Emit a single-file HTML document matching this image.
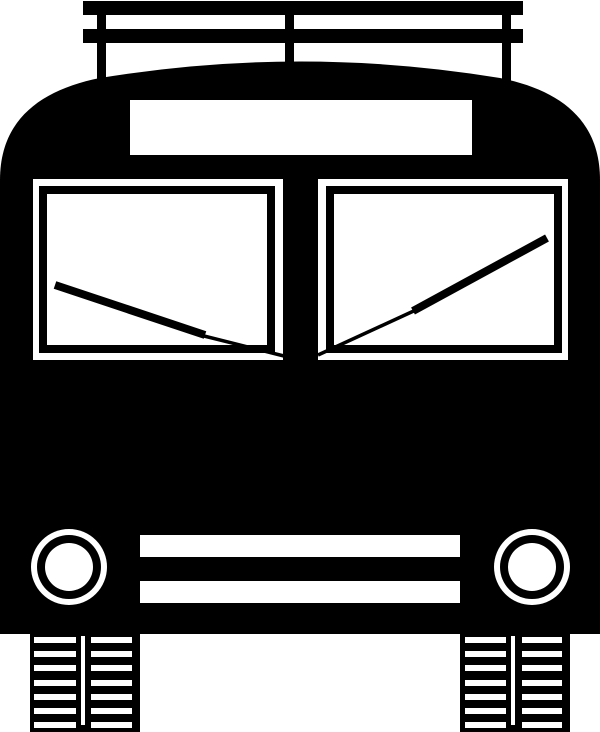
<!DOCTYPE html>
<html><head><style>html,body{margin:0;padding:0;background:#fff}svg{display:block}</style></head>
<body>
<svg width="600" height="732" viewBox="0 0 600 732" xmlns="http://www.w3.org/2000/svg">
<rect width="600" height="732" fill="#fff"/>
<!-- roof rack -->
<rect x="83" y="1" width="440" height="14" fill="#000"/>
<rect x="83" y="29" width="440" height="14" fill="#000"/>
<rect x="97" y="1" width="9" height="90" fill="#000"/>
<rect x="285" y="1" width="9" height="70" fill="#000"/>
<rect x="502" y="1" width="9" height="90" fill="#000"/>
<!-- body -->
<path d="M0,634 L0,180 C0,120 40,90 100,78 Q300,45 500,78 C560,90 600,120 600,180 L600,634 Z" fill="#000"/>
<!-- sign -->
<rect x="130" y="100" width="342" height="55" fill="#fff"/>
<!-- windows -->
<rect x="33" y="179" width="250" height="181" fill="#fff"/>
<rect x="39" y="186" width="236" height="167" fill="#000"/>
<rect x="47" y="194" width="220" height="151" fill="#fff"/>
<rect x="318" y="179" width="250" height="181" fill="#fff"/>
<rect x="326" y="186" width="236" height="167" fill="#000"/>
<rect x="334" y="194" width="220" height="151" fill="#fff"/>
<!-- wipers -->
<line x1="55" y1="285" x2="205" y2="335" stroke="#000" stroke-width="8"/>
<line x1="200" y1="335" x2="284" y2="356" stroke="#000" stroke-width="3.5"/>
<line x1="547" y1="238" x2="413" y2="311" stroke="#000" stroke-width="8"/>
<line x1="418" y1="309" x2="318" y2="355" stroke="#000" stroke-width="3.5"/>
<!-- headlights -->
<circle cx="69" cy="567" r="38" fill="#fff"/>
<circle cx="69" cy="567" r="32" fill="#000"/>
<circle cx="69" cy="567" r="24" fill="#fff"/>
<circle cx="532" cy="567" r="38" fill="#fff"/>
<circle cx="532" cy="567" r="32" fill="#000"/>
<circle cx="532" cy="567" r="24" fill="#fff"/>
<!-- grille bars -->
<rect x="140" y="535" width="320" height="22" fill="#fff"/>
<rect x="140" y="581" width="320" height="22" fill="#fff"/>
<!-- wheels -->
<rect x="30" y="634" width="110" height="98" fill="#000"/>
<rect x="460" y="634" width="110" height="98" fill="#000"/>
<g fill="#fff">
<rect x="81" y="636" width="4" height="89"/>
<rect x="511" y="636" width="4" height="89"/>
<rect x="34" y="637" width="42" height="6"/><rect x="91" y="637" width="41" height="6"/>
<rect x="34" y="651" width="42" height="6"/><rect x="91" y="651" width="41" height="6"/>
<rect x="34" y="665" width="42" height="6"/><rect x="91" y="665" width="41" height="6"/>
<rect x="34" y="680" width="42" height="6"/><rect x="91" y="680" width="41" height="6"/>
<rect x="34" y="694" width="42" height="6"/><rect x="91" y="694" width="41" height="6"/>
<rect x="34" y="708" width="42" height="6"/><rect x="91" y="708" width="41" height="6"/>
<rect x="34" y="722" width="42" height="6"/><rect x="91" y="722" width="41" height="6"/>
<rect x="465" y="637" width="41" height="6"/><rect x="522" y="637" width="40" height="6"/>
<rect x="465" y="651" width="41" height="6"/><rect x="522" y="651" width="40" height="6"/>
<rect x="465" y="665" width="41" height="6"/><rect x="522" y="665" width="40" height="6"/>
<rect x="465" y="680" width="41" height="6"/><rect x="522" y="680" width="40" height="6"/>
<rect x="465" y="694" width="41" height="6"/><rect x="522" y="694" width="40" height="6"/>
<rect x="465" y="708" width="41" height="6"/><rect x="522" y="708" width="40" height="6"/>
<rect x="465" y="722" width="41" height="6"/><rect x="522" y="722" width="40" height="6"/>
</g>
</svg>
</body></html>
